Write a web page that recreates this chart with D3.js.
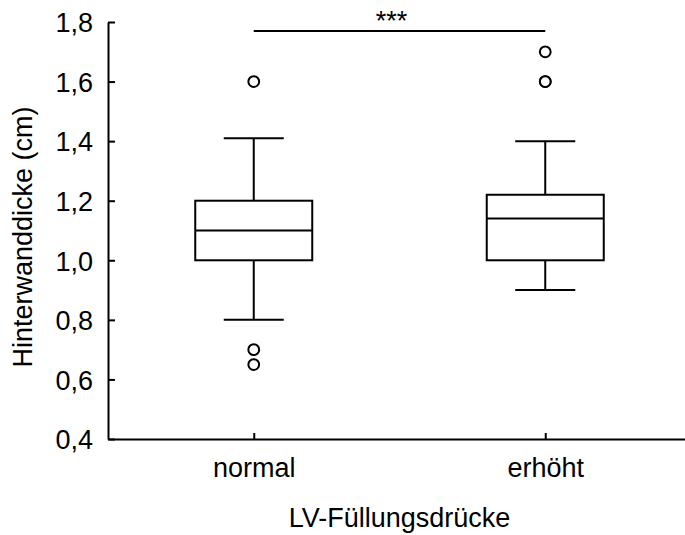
<!DOCTYPE html>
<html>
<head>
<meta charset="utf-8">
<script src="https://cdn.jsdelivr.net/npm/d3@7"></script>
<style>
  html, body { margin: 0; padding: 0; background: #fff; }
  svg { display: block; font-family: "Liberation Sans", Arial, sans-serif; }
</style>
</head>
<body>
<svg id="chart" width="685" height="535"></svg>
<script>
// ---- data ----
const categories = ["normal", "erhöht"];
const whiskerLow = [0.80, 0.90];
const q1 = [1.00, 1.00];
const median = [1.10, 1.14];
const q3 = [1.20, 1.22];
const whiskerHigh = [1.41, 1.40];
const outliersNormal = [1.60, 0.70, 0.65];
const outliersErhoeht = [1.70, 1.60, 1.60];
const yTicks = [0.4, 0.6, 0.8, 1.0, 1.2, 1.4, 1.6, 1.8];
const significanceLevel = 1.77;
const significanceLabel = "***";
const yTitle = "Hinterwanddicke (cm)";
const xTitle = "LV-Füllungsdrücke";

const outliers = [outliersNormal, outliersErhoeht];

// ---- layout ----
const svg = d3.select("#chart");
const plotLeft = 108, plotBottom = 439, plotTop = 22;
const fontSize = 27;

const y = d3.scaleLinear().domain([0.4, 1.8]).range([plotBottom, plotTop]);
const x = d3.scalePoint().domain(categories).range([plotLeft, 691]).padding(0.5);

const boxW = 117, capW = 60;
const stroke = "#000", sw = 2;

// y axis
const yAxis = d3.axisLeft(y)
  .tickValues(yTicks)
  .tickSizeInner(-7)
  .tickSizeOuter(0)
  .tickFormat(d => d3.format(".1f")(d).replace(".", ","));
const gy = svg.append("g").attr("transform", `translate(${plotLeft},0)`).call(yAxis);
gy.select(".domain").attr("stroke", stroke).attr("stroke-width", sw);
gy.selectAll(".tick line").attr("stroke", stroke).attr("stroke-width", sw);
gy.selectAll(".tick text")
  .attr("x", -15).attr("dy", "0.36em")
  .attr("font-size", fontSize).attr("fill", "#000")
  .attr("font-family", "'Liberation Sans', Arial, sans-serif");

// x axis
const xAxis = d3.axisBottom(x).tickSizeInner(-6).tickSizeOuter(0);
const gx = svg.append("g").attr("transform", `translate(0,${plotBottom})`).call(xAxis);
gx.select(".domain").attr("stroke", stroke).attr("stroke-width", sw);
gx.selectAll(".tick line").attr("stroke", stroke).attr("stroke-width", sw);
gx.selectAll(".tick text")
  .attr("y", 38).attr("dy", 0)
  .attr("font-size", fontSize).attr("fill", "#000")
  .attr("font-family", "'Liberation Sans', Arial, sans-serif");

// boxes
const g = svg.append("g").attr("fill", "none").attr("stroke", stroke).attr("stroke-width", sw);
categories.forEach((c, i) => {
  const cx = x(c);
  g.append("line").attr("x1", cx).attr("x2", cx).attr("y1", y(q3[i])).attr("y2", y(whiskerHigh[i]));
  g.append("line").attr("x1", cx).attr("x2", cx).attr("y1", y(q1[i])).attr("y2", y(whiskerLow[i]));
  g.append("line").attr("x1", cx - capW / 2).attr("x2", cx + capW / 2).attr("y1", y(whiskerHigh[i])).attr("y2", y(whiskerHigh[i]));
  g.append("line").attr("x1", cx - capW / 2).attr("x2", cx + capW / 2).attr("y1", y(whiskerLow[i])).attr("y2", y(whiskerLow[i]));
  g.append("rect").attr("x", cx - boxW / 2).attr("width", boxW)
    .attr("y", y(q3[i])).attr("height", y(q1[i]) - y(q3[i])).attr("fill", "#fff");
  g.append("line").attr("x1", cx - boxW / 2).attr("x2", cx + boxW / 2).attr("y1", y(median[i])).attr("y2", y(median[i]));
  outliers[i].forEach(v => {
    g.append("circle").attr("cx", cx).attr("cy", y(v)).attr("r", 5.4).attr("fill", "#fff");
  });
});

// significance bar
svg.append("line")
  .attr("x1", x(categories[0])).attr("x2", x(categories[1]))
  .attr("y1", y(significanceLevel)).attr("y2", y(significanceLevel))
  .attr("stroke", stroke).attr("stroke-width", sw);
svg.append("text")
  .attr("x", (x(categories[0]) + x(categories[1])) / 2 - 8)
  .attr("y", y(significanceLevel) - 1)
  .attr("text-anchor", "middle").attr("font-size", fontSize).attr("fill", "#000")
  .text(significanceLabel);

// titles
svg.append("text")
  .attr("x", (plotLeft + 685) / 2 + 3).attr("y", 527)
  .attr("text-anchor", "middle").attr("font-size", fontSize).attr("fill", "#000")
  .text(xTitle);
svg.append("text")
  .attr("transform", `translate(32,${237}) rotate(-90)`)
  .attr("text-anchor", "middle").attr("font-size", fontSize).attr("fill", "#000")
  .text(yTitle);
</script>
</body>
</html>
